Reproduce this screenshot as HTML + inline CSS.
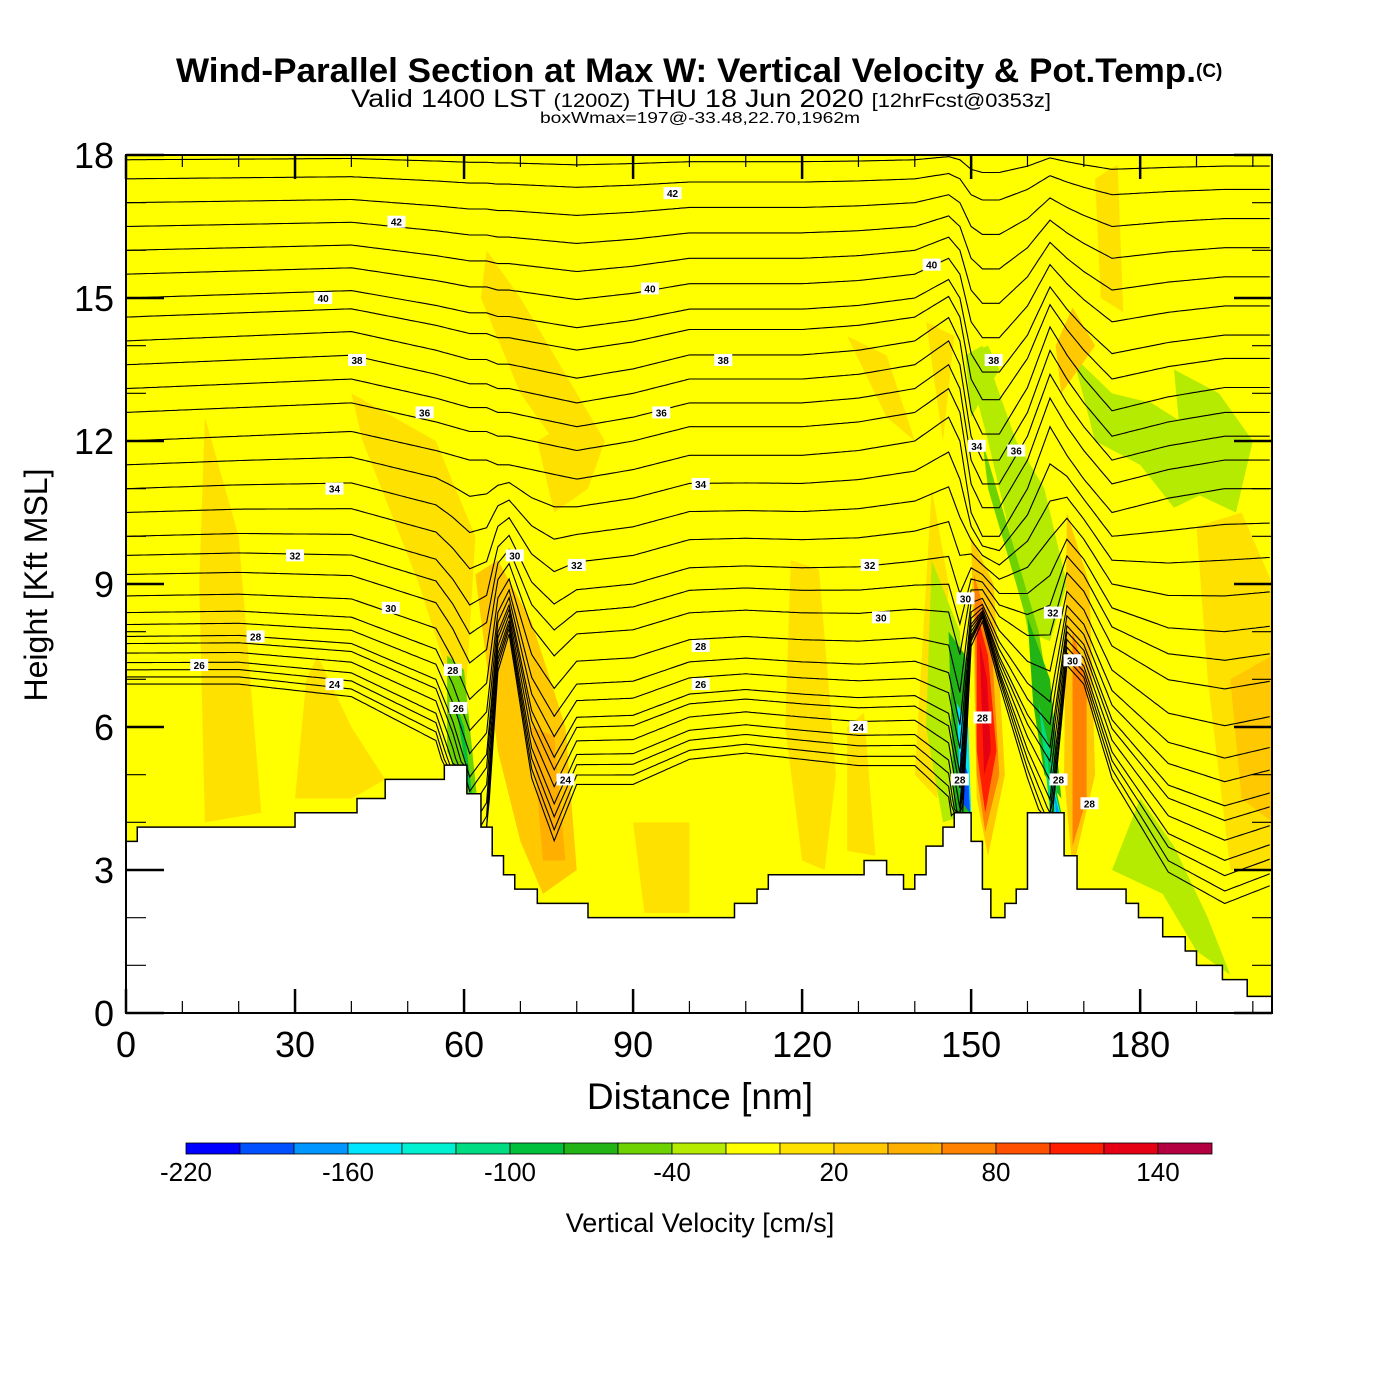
<!DOCTYPE html>
<html><head><meta charset="utf-8">
<style>
body{margin:0;background:#fff;width:1400px;height:1400px;overflow:hidden;font-family:"Liberation Sans",sans-serif}
svg{position:absolute;left:0;top:0}
</style></head>
<body>
<svg id="c" width="1400" height="1400" viewBox="0 0 1400 1400" xmlns="http://www.w3.org/2000/svg">
<rect width="1400" height="1400" fill="#fff"/>
<text x="176" y="82" font-size="34" font-weight="bold" textLength="1020" lengthAdjust="spacingAndGlyphs">Wind-Parallel Section at Max W: Vertical Velocity &amp; Pot.Temp.</text>
<text x="1196" y="77" font-size="19" font-weight="bold">(C)</text>
<text x="351" y="107" font-size="25" textLength="700" lengthAdjust="spacingAndGlyphs">Valid 1400 LST <tspan font-size="19">(1200Z)</tspan> THU 18 Jun 2020 <tspan font-size="19">[12hrFcst@0353z]</tspan></text>
<text x="540" y="123" font-size="16" textLength="320" lengthAdjust="spacingAndGlyphs">boxWmax=197@-33.48,22.70,1962m</text>
<defs><clipPath id="pc"><rect x="126" y="155" width="1146" height="858"/></clipPath></defs>
<g id="plot" clip-path="url(#pc)"></g>
<g id="axes"></g>
<g id="cbar"></g>
<text x="700" y="1109" text-anchor="middle" font-size="37">Distance [nm]</text>
<text transform="translate(47,585) rotate(-90)" text-anchor="middle" font-size="32">Height [Kft MSL]</text>
<text x="700" y="1232" text-anchor="middle" font-size="27">Vertical Velocity [cm/s]</text>
</svg>
<script>
// ---- data ----
const cbarValues=[-220,-200,-180,-160,-140,-120,-100,-80,-60,-40,-20,0,20,40,60,80,100,120,140,160];
const cbarColors=["#0000FF","#0050FF","#0096FF","#00E6FF","#00F0D2","#00DC82","#00C03C","#22B414","#6ED200","#B4EB00","#FFFF00","#FFE100","#FFC800","#FFAF00","#FF8200","#FF5000","#FF1E00","#E60014","#B40040"];
const cbarLabels=[-220,-160,-100,-40,20,80,140];
const xTicks=[0,30,60,90,120,150,180];
const yTicks=[0,3,6,9,12,15,18];
const terrainX=[0,2,30,41,46,56.5,60.5,63,65,67,69,73,82,108,112,114,131,135,138,140,142,145,147,150,152,153.5,156,158,160,166.5,168.8,177.5,179.7,184,188,190,194.6,199,203.5];
const terrainH=[3.6,3.9,4.2,4.5,4.9,5.2,4.6,3.9,3.3,2.9,2.6,2.3,2.0,2.3,2.6,2.9,3.2,2.9,2.6,2.9,3.5,3.9,4.2,3.6,2.6,2.0,2.3,2.6,4.2,3.3,2.6,2.3,2.0,1.6,1.3,1.0,0.7,0.35,0.35];
// contour base heights (kft at x=0)
const contourBase=[6.9,7.05,7.2,7.35,7.55,7.75,7.9,8.15,8.4,8.75,9.2,9.6,10.0,10.5,11.0,11.5,12.0,12.6,13.1,13.6,14.1,14.6,15.0,15.5,16.0,16.5,17.0,17.5,17.9];
const contourX=[0,20,40,55,58,61,64,66,68,72,76,80,90,100,110,120,130,140,146,148,150,152,155,160,164,167,170,175,185,195,203.5];
const dispLow=[0,0,-0.2,-0.9,-1.8,-3,-2.5,0.2,0.8,-1.5,-2.5,-1.6,-1.6,-1.2,-1.1,-1.2,-1.3,-1.3,-1.8,-3,0.6,1.0,0,-1.5,-2.5,0.3,0,-1.5,-3,-3.5,-3.2];
const dispHigh=[0,0.1,0.2,-0.2,-0.3,-0.4,-0.4,-0.5,-0.5,-0.6,-0.7,-0.8,-0.6,-0.3,-0.3,-0.3,-0.2,0,0.5,0,-1.5,-2.0,-2.0,-1.0,0.3,-0.3,-0.8,-1.5,-1.2,-1.0,-1.0];
const contourLabels=[[13,7.3,"26"],[23,7.9,"28"],[37,6.9,"24"],[47,8.5,"30"],[30,9.6,"32"],[37,11.0,"34"],[53,12.6,"36"],[41,13.7,"38"],[35,15.0,"40"],[48,16.6,"42"],[97,17.2,"42"],[93,15.2,"40"],[106,13.7,"38"],[95,12.6,"36"],[102,11.1,"34"],[80,9.4,"32"],[69,9.6,"30"],[102,7.7,"28"],[102,6.9,"26"],[78,4.9,"24"],[130,6.0,"24"],[134,8.3,"30"],[132,9.4,"32"],[143,15.7,"40"],[154,13.7,"38"],[151,11.9,"34"],[158,11.8,"36"],[149,8.7,"30"],[152,6.2,"28"],[148,4.9,"28"],[165.5,4.9,"28"],[171,4.4,"28"],[164.5,8.4,"32"],[168,7.4,"30"],[58,7.2,"28"],[59,6.4,"26"]];
// vertical velocity regions: value + polygon (nm,kft)
const blobVals=[10,10,10,10,10,10,10,10,10,10,10,10,10,30,30,50,-30,-50,-70,-90,-30,-50,-70,-120,-160,-200,-30,-30,-90,-140,-180,30,70,110,130,30,70,-30,-30,30];
const blobPts=[
[[14,12.5],[20,10],[24,4.2],[14,4],[13,9]],
[[34,7.5],[40,6],[46,4.9],[40,4.5],[30,4.5],[32,7]],
[[40,13],[55,12],[62,10],[60,6],[52,9],[42,12]],
[[64,16],[70,15],[85,12],[82,11],[70,13],[63,15]],
[[73,12],[80,12.5],[82,11],[76,10.5]],
[[90,4],[100,4],[100,2.1],[92,2.1]],
[[118,9.5],[123,9.3],[126,5],[124,3],[120,3.2],[117,6]],
[[128,6],[131,6.3],[133,3.3],[128,3.4]],
[[128,14.2],[135,13.8],[140,12],[135,12.5]],
[[142,14.5],[147,14.2],[145,12]],
[[172,17.5],[176,17.8],[177,14.7],[173,15]],
[[190,10.2],[198,10.5],[203.5,9],[203.5,3],[196,3],[192,7]],
[[143,11],[146,9],[144,4.5],[140,5]],
[[62,9.2],[66,9.5],[72,8.2],[78,6],[80,3],[74,2.5],[70,3.6],[66,5.5]],
[[196,7],[203.5,7.5],[203.5,4],[198,4.5]],
[[72,6],[76,5.8],[78,3.2],[74,3.2]],
[[143,9.5],[148,8],[150,4.2],[145,4],[142,6]],
[[57,7.5],[60,7.2],[63,3.7],[60,4.6],[57,5.5]],
[[146,8],[149,7.5],[150,4],[147,4.2]],
[[58.5,6.5],[60,6],[62,4],[61,4.6]],
[[149,13.8],[153,12],[158,9.5],[160,8],[164,7.8],[167,9],[163,11],[158,12],[152,14]],
[[152,12],[157,10],[162,8],[166,5],[164,6.5],[158,9],[153,11]],
[[160,8.3],[164,7],[166,4.5],[163,5],[161,6.5]],
[[162,6.5],[165,5],[166,3.5],[164,4.2]],
[[147.5,6.5],[149.5,6],[150,4.2],[148,4.6]],
[[148,5.5],[149.5,5],[149.8,4.2],[148.5,4.4]],
[[168,13.8],[175,13],[182,12.8],[190,12.2],[193,11],[186,10.6],[180,11.5],[172,12]],
[[175,3],[184,2.5],[190,1.3],[196,0.8],[192,2],[186,3.5],[180,4.5]],
[[163.5,5.5],[166,4.2],[166.5,3.3],[164.5,4]],
[[164.2,5],[165.8,4.2],[166.3,3.5],[165,4]],
[[164.8,4.6],[165.8,4.1],[166,3.6],[165.3,3.8]],
[[150,10],[154,9],[156,5],[153,3.3],[151,4.5]],
[[150.5,9.2],[153.5,8],[155,5],[152.5,3.8],[151,5]],
[[151,8.4],[153,7.5],[154.5,5.5],[152.5,4.2],[151,5.5]],
[[151.5,7.8],[152.8,7],[153.5,5.5],[152.3,5]],
[[167,10.5],[171,9],[172,5],[168,3],[166.5,5]],
[[168,8],[170.5,7],[170.5,4.5],[168,3.5]],
[[186,13.5],[194,13],[200,12],[197,10.5],[188,11]],
[[153,14],[155,13.5],[150,12.5],[149,13.8]],
[[168,14.8],[172,14],[166,13],[165,14]]];

// ---- scales ----
const X0=126,X1=1272,Y0=1013,Y1=155,XMAX=203.4;
const sx=v=>X0+(v/XMAX)*(X1-X0);
const sy=v=>Y0-(v/18)*(Y0-Y1);
const NS="http://www.w3.org/2000/svg";
function mk(tag,attrs,parent){const e=document.createElementNS(NS,tag);for(const k in attrs)e.setAttribute(k,attrs[k]);parent.appendChild(e);return e;}
function colorFor(v){for(let i=0;i<cbarColors.length;i++){if(v>=cbarValues[i]&&v<cbarValues[i+1])return cbarColors[i];}return cbarColors[cbarColors.length-1];}
function interp(xs,ys,x){if(x<=xs[0])return ys[0];for(let i=1;i<xs.length;i++){if(x<=xs[i]){const t=(x-xs[i-1])/(xs[i]-xs[i-1]);return ys[i-1]+t*(ys[i]-ys[i-1]);}}return ys[ys.length-1];}
function terrainAt(x){let h=terrainH[0];for(let i=0;i<terrainX.length;i++){if(x>=terrainX[i])h=terrainH[i];}return h;}

const plot=document.getElementById('plot');
const bg=mk('rect',{x:X0,y:Y1,width:X1-X0,height:Y0-Y1,fill:colorFor(-10)},plot);


blobPts.forEach((pts,i)=>{
  const p=mk('polygon',{points:pts.map(q=>sx(q[0])+','+sy(q[1])).join(' '),fill:colorFor(blobVals[i]),'stroke':'none'},plot);
  
  
});
contourBase.forEach((b,li)=>{
  let w=Math.min(1,Math.max(0,(b-7)/5));
  let fade=b>14?Math.max(0,(18.5-b)/4.5):1;
  let pts=[];
  for(let x=0;x<=XMAX;x+=0.5){
    const dl=interp(contourX,dispLow,x),dh=interp(contourX,dispHigh,x);
    let d=((1-w)*dl+w*dh)*fade;
    if(b<9)d*=1+(9-b)*0.15;
    let h=Math.max(b+d,terrainAt(x));
    pts.push(sx(x).toFixed(1)+','+sy(h).toFixed(1));
  }
  const pl=mk('polyline',{points:pts.join(' '),fill:'none',stroke:'#000','stroke-width':1.1},plot);
  
  
});
let tp=[[0,0]];
for(let i=0;i<terrainX.length;i++){tp.push([terrainX[i],terrainH[i]]);if(i+1<terrainX.length)tp.push([terrainX[i+1],terrainH[i]]);}
tp.push([XMAX,terrainH[terrainH.length-1]]);tp.push([XMAX,0]);
const ter=mk('polygon',{points:tp.map(q=>sx(q[0])+','+sy(q[1])).join(' '),fill:'#fff',stroke:'#000','stroke-width':1.5},plot);


contourLabels.forEach(l=>{
  const g=mk('g',{},plot);
  
  
  mk('rect',{x:sx(l[0])-9,y:sy(l[1])-6,width:18,height:12,fill:'#fff'},g);
  const t=mk('text',{x:sx(l[0]),y:sy(l[1])+4,'text-anchor':'middle','font-size':10,'font-weight':'bold'},g);t.textContent=l[2];
});
const ax=document.getElementById('axes');
mk('rect',{x:X0,y:Y1,width:X1-X0,height:Y0-Y1,fill:'none',stroke:'#000','stroke-width':2},ax);
for(let v=0;v<=200;v+=10){const maj=v%30===0;const L=maj?24:12;
  mk('line',{x1:sx(v),y1:Y0,x2:sx(v),y2:Y0-L,stroke:'#000','stroke-width':maj?2.5:1.2},ax);
  mk('line',{x1:sx(v),y1:Y1,x2:sx(v),y2:Y1+L,stroke:'#000','stroke-width':maj?2.5:1.2},ax);}
for(let v=0;v<=18;v+=1){const maj=v%3===0;const L=maj?38:20;
  mk('line',{x1:X0,y1:sy(v),x2:X0+L,y2:sy(v),stroke:'#000','stroke-width':maj?2.5:1.2},ax);
  mk('line',{x1:X1,y1:sy(v),x2:X1-L,y2:sy(v),stroke:'#000','stroke-width':maj?2.5:1.2},ax);}
xTicks.forEach(v=>{const t=mk('text',{x:sx(v),y:1057,'text-anchor':'middle','font-size':36},ax);t.textContent=v;
  });
yTicks.forEach(v=>{const t=mk('text',{x:114,y:sy(v)+13,'text-anchor':'end','font-size':36},ax);t.textContent=v;
  });
const cb=document.getElementById('cbar');const CB0=186,BW=54;
cbarColors.forEach((c,i)=>{const r=mk('rect',{x:CB0+i*BW,y:1143,width:BW,height:11,fill:c,stroke:'#000','stroke-width':0.8},cb);
  });
cbarLabels.forEach(v=>{const i=cbarValues.indexOf(v);const t=mk('text',{x:CB0+i*BW,y:1181,'text-anchor':'middle','font-size':26},cb);t.textContent=v;
  });
</script>
</body></html>
